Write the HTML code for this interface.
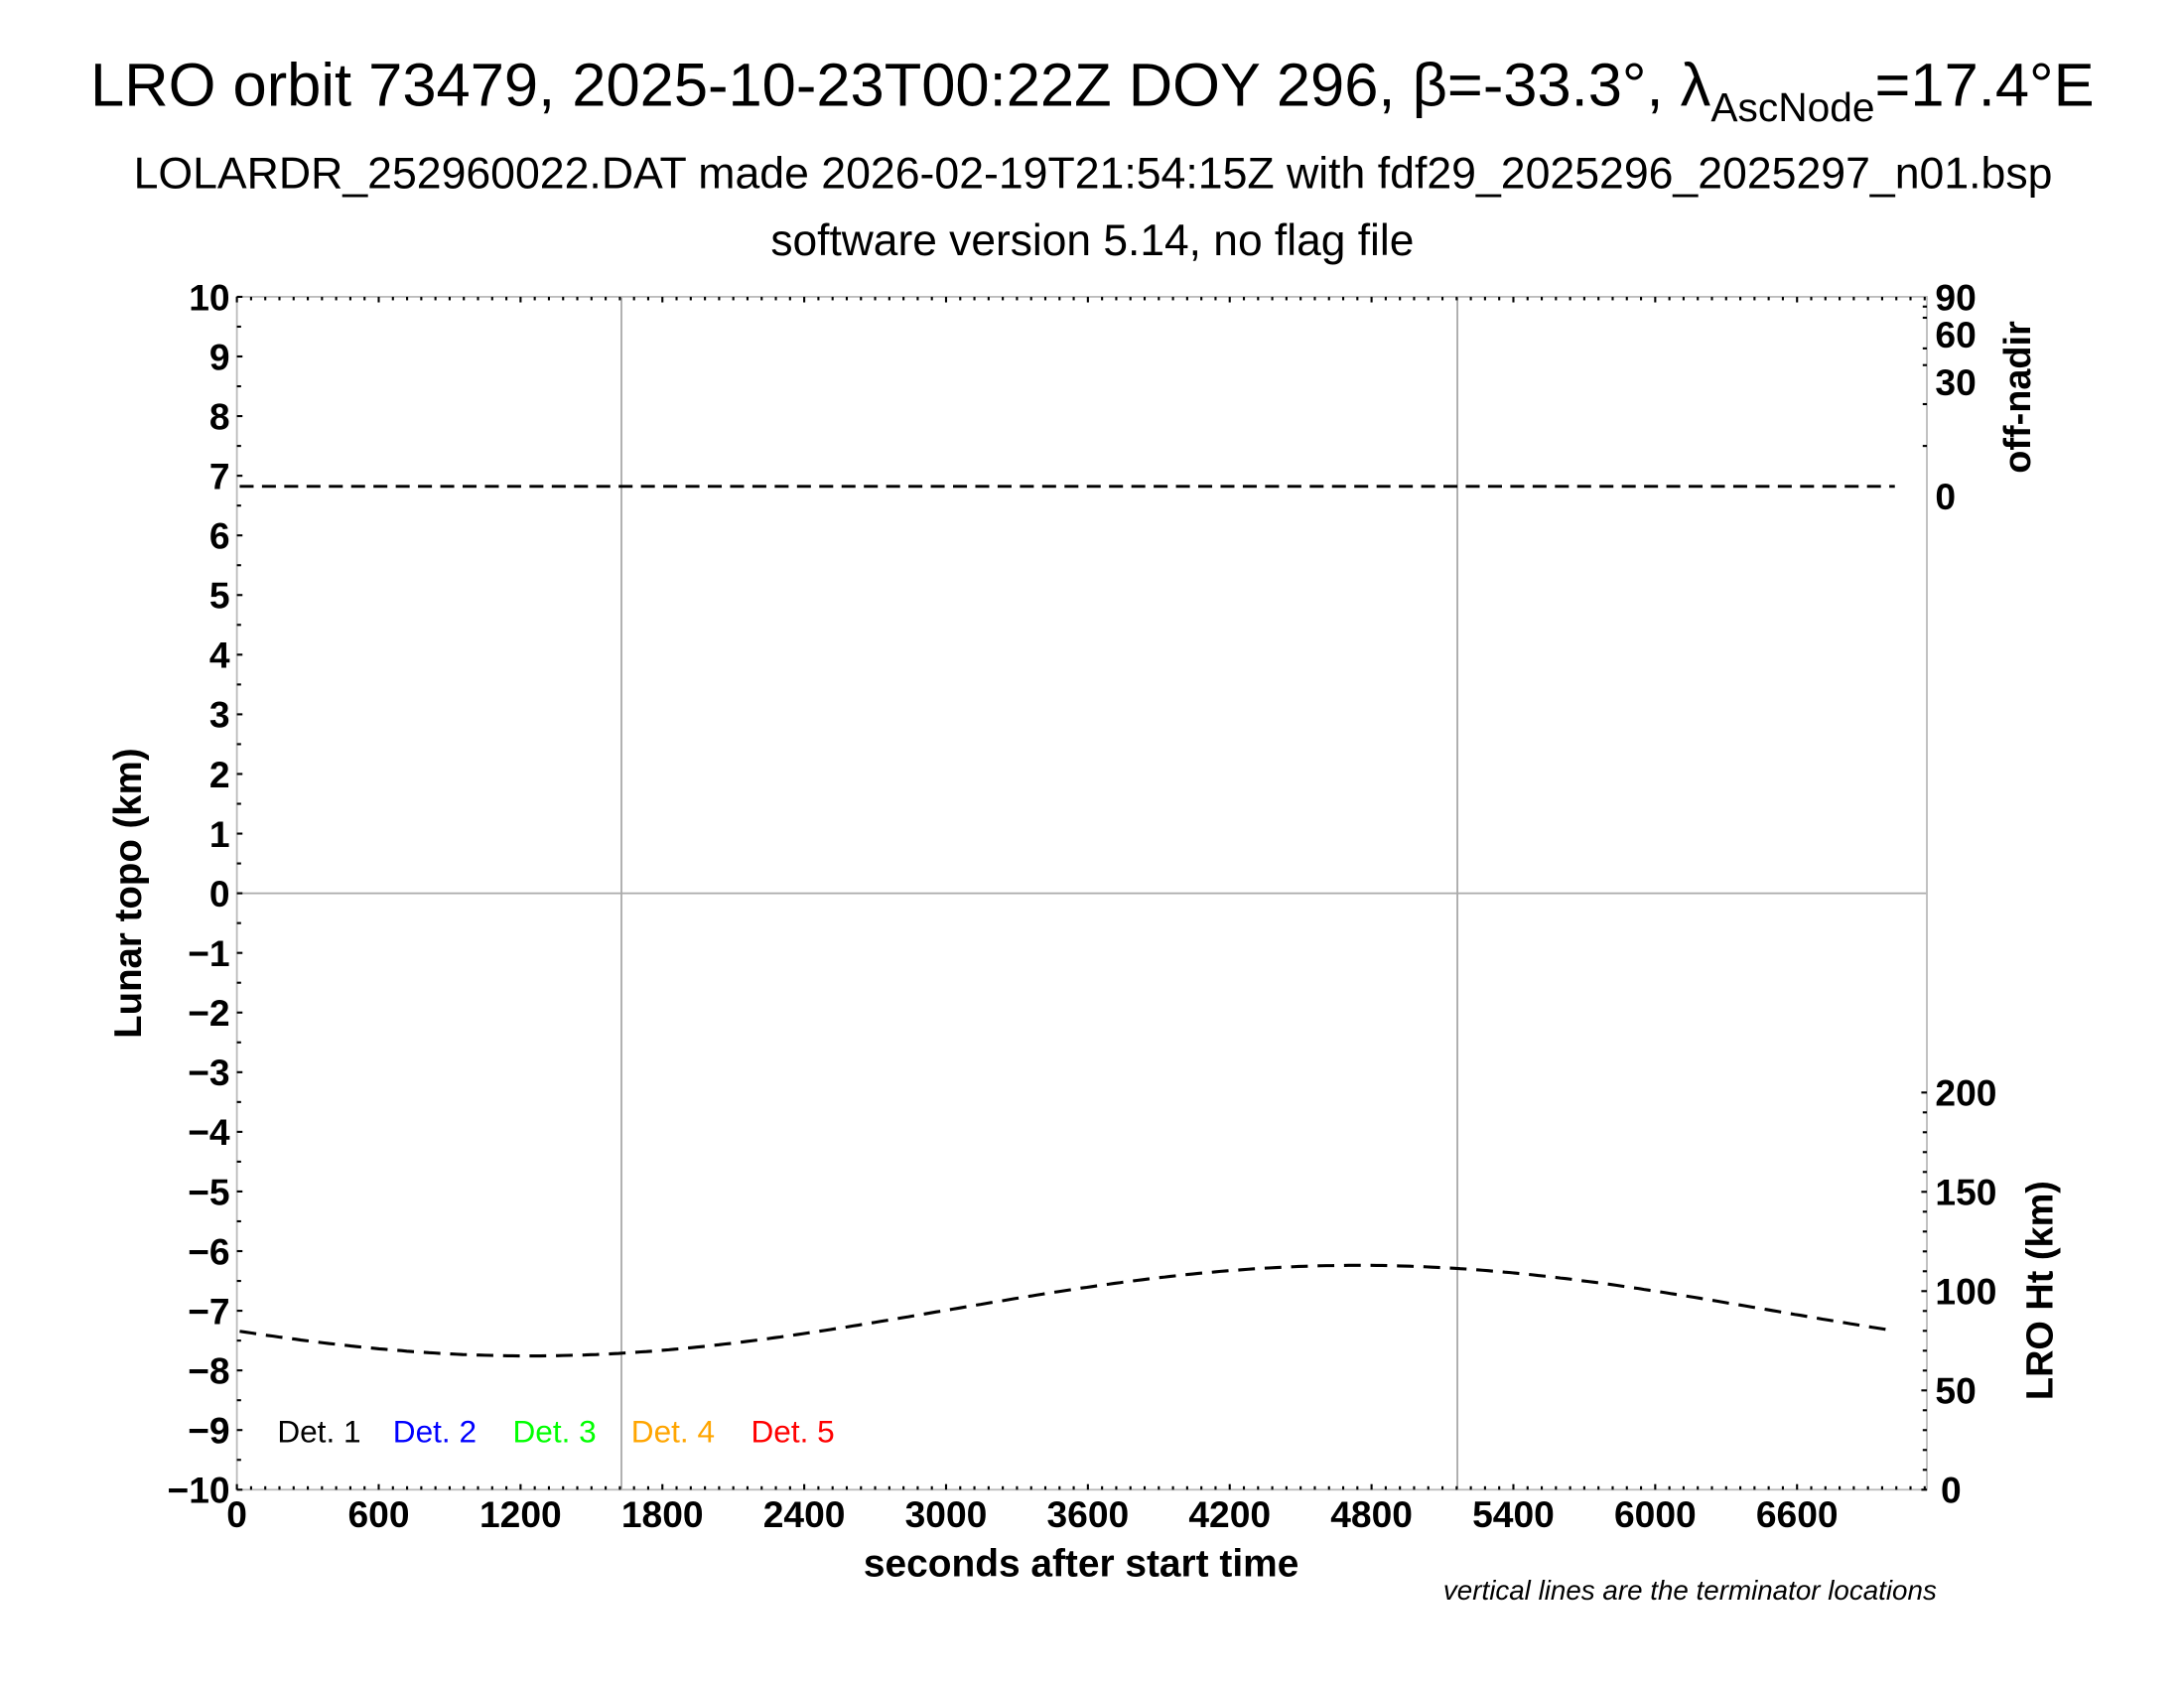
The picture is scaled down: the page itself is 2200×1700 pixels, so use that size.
<!DOCTYPE html>
<html><head><meta charset="utf-8"><style>
html,body{margin:0;padding:0;background:#fff}
svg{display:block}
text{font-family:"Liberation Sans",Arial,sans-serif;fill:#000}
.b{font-weight:bold}
</style></head><body>
<svg id="s" width="2200" height="1700" viewBox="0 0 1567.5 1211.3" xmlns="http://www.w3.org/2000/svg">
<rect width="1567.5" height="1211.3" fill="#fff"/>
<text x="784" y="76" font-size="43.8" text-anchor="middle">LRO orbit 73479, 2025-10-23T00:22Z DOY 296, β=-33.3°, λ<tspan font-size="29" dy="11">AscNode</tspan><tspan dy="-11">=17.4°E</tspan></text>
<text x="784.5" y="135" font-size="31.8" text-anchor="middle">LOLARDR_252960022.DAT made 2026-02-19T21:54:15Z with fdf29_2025296_2025297_n01.bsp</text>
<text x="784" y="183" font-size="31.6" text-anchor="middle">software version 5.14, no flag file</text>
<g id="g"></g>
<text class="b" font-size="27.4" transform="translate(101,641) rotate(-90)" text-anchor="middle">Lunar topo (km)</text>
<text class="b" font-size="27" transform="translate(1457,285) rotate(-90)" text-anchor="middle">off-nadir</text>
<text class="b" font-size="27" transform="translate(1473,926) rotate(-90)" text-anchor="middle">LRO Ht (km)</text>
<text class="b" font-size="27.7" x="776" y="1131" text-anchor="middle">seconds after start time</text>
<text font-size="19.8" font-style="italic" x="1390" y="1148" text-anchor="end">vertical lines are the terminator locations</text>
<text font-size="22.5" x="199" y="1035">Det. 1</text>
<text font-size="22.5" x="282" y="1035" style="fill:#00f">Det. 2</text>
<text font-size="22.5" x="368" y="1035" style="fill:#0f0">Det. 3</text>
<text font-size="22.5" x="453" y="1035" style="fill:#ffa500">Det. 4</text>
<text font-size="22.5" x="539" y="1035" style="fill:#f00">Det. 5</text>
</svg>
<script>
var g=document.getElementById('g'),h='';
var L=170,R=1383,T=213,B=1069,ky=(B-T)/20;
function Y(v){return (T+B)/2-v*ky}
h+='<line x1="'+L+'" y1="'+Y(0)+'" x2="'+R+'" y2="'+Y(0)+'" stroke="#aaa" stroke-width="1.3"/>';
[446,1046].forEach(function(x){h+='<line x1="'+x+'" y1="'+T+'" x2="'+x+'" y2="'+B+'" stroke="#aaa" stroke-width="1.3"/>'});
h+='<rect x="'+L+'" y="'+T+'" width="'+(R-L)+'" height="'+(B-T)+'" fill="none" stroke="#bbb" stroke-width="1.3"/>';
for(var v=-10;v<=10;v+=0.5){var y=Y(v),big=(v%1==0);h+='<line x1="'+L+'" y1="'+y+'" x2="'+(L+(big?4:3))+'" y2="'+y+'" stroke="#000" stroke-width="1.5"/>';
 if(big)h+='<text class="b" font-size="26.5" x="165" y="'+(y+9.5)+'" text-anchor="end">'+(v<0?'\u2212'+(-v):v)+'</text>';}
var px=101.8/600;
for(var s=0;s*px+L<=R;s+=60){var x=L+s*px,big=(s%600==0),t=big?4:2.5;h+='<line x1="'+x+'" y1="'+B+'" x2="'+x+'" y2="'+(B-t)+'" stroke="#000" stroke-width="1.5"/><line x1="'+x+'" y1="'+T+'" x2="'+x+'" y2="'+(T+t)+'" stroke="#000" stroke-width="1.5"/>';
 if(big)h+='<text class="b" font-size="26.5" x="'+x+'" y="1096" text-anchor="middle">'+s+'</text>';}
[[90,213],[60,240],[30,274],[0,356]].forEach(function(a){h+='<text class="b" font-size="26.5" x="1389" y="'+(a[1]+9.5)+'">'+a[0]+'</text>';});
[220,228,250,262,290,320].forEach(function(y){h+='<line x1="'+R+'" y1="'+y+'" x2="'+(R-3)+'" y2="'+y+'" stroke="#000" stroke-width="1.5"/>'});
for(var k=0;k<=200;k+=10){var y=B-k*(B-784)/200;h+='<line x1="'+R+'" y1="'+y+'" x2="'+(R-(k%50==0?4:3))+'" y2="'+y+'" stroke="#000" stroke-width="1.5"/>';
 if(k%50==0)h+='<text class="b" font-size="26.5" x="'+(k==0?1393:1389)+'" y="'+(y+9.5)+'">'+k+'</text>';}
h+='<line x1="172" y1="349" x2="1360" y2="349" stroke="#000" stroke-width="2" stroke-dasharray="10,6"/>';
var p='';for(var x=172;x<=1360;x+=4){var y=940.5-32.5*Math.cos(Math.PI*(x-975)/595);p+=(p?'L':'M')+x+','+y.toFixed(1);}
h+='<path d="'+p+'" fill="none" stroke="#000" stroke-width="2.2" stroke-dasharray="12,7"/>';
g.innerHTML=h;
</script>
</body></html>
